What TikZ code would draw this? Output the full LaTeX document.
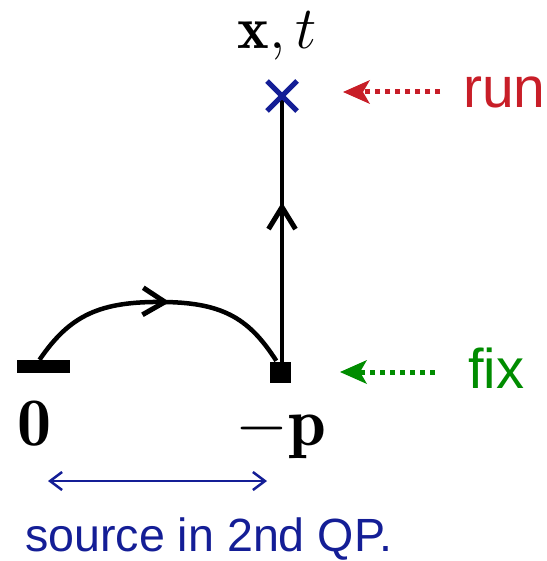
\RequirePackage{fix-cm}
\documentclass[tikz,border=0pt]{standalone}
\usepackage{fontspec}
\newfontfamily\lsans{Liberation Sans}
\usetikzlibrary{arrows.meta,decorations.markings,calc}
\definecolor{runred}{RGB}{200,30,40}
\definecolor{fixgreen}{RGB}{0,140,0}
\definecolor{qpblue}{RGB}{20,30,150}
\tikzset{
  pathline/.style={line width=4.5pt, black},
  chev/.tip={Straight Barb[length=22pt,width=27pt,line width=5pt]},
  pointer/.style={line width=5pt, dash pattern=on 5pt off 5pt,
     -{Stealth[length=27pt,width=24pt,inset=7pt,line width=0pt]}},
  lbl/.style={inner sep=0pt, anchor=base west},
  mlbl/.style={inner sep=0pt, anchor=base, font=\fontsize{68}{70}\selectfont},
}
\begin{document}
\begin{tikzpicture}[x=1pt,y=-1pt]
\useasboundingbox (0,0) rectangle (546,561);
% nodes
\coordinate (x) at (282,96);
\node[fill=black, minimum size=21pt, inner sep=0pt] (p) at (280,372.5) {};
\node[fill=black, minimum width=53pt, minimum height=13pt, inner sep=0pt] (o) at (43.5,366.5) {};
% curve with arrow
\draw[pathline, decoration={markings, mark=at position 0.54 with {\arrow{chev}}}, postaction={decorate}]
  ([xshift=-4pt]o.north) .. controls (70,315) and (100,301) .. (165,302)
  .. controls (225,303) and (250,320) .. ([xshift=7pt,yshift=1pt]p.north west);
% vertical line with arrow
\draw[pathline, decoration={markings, mark=at position 0.6 with {\arrow{chev}}}, postaction={decorate}]
  ([xshift=2pt]p.north) -- (x);
% cross
\draw[qpblue, line width=5pt] ($(x)+(-15,-15)$) -- ($(x)+(15,15)$);
\draw[qpblue, line width=5pt] ($(x)+(-15,15)$) -- ($(x)+(15,-15)$);
% labels
\node[mlbl, font=\fontsize{60}{62}\selectfont] (xt) at (277,49) {$\mathbf{x},t$};
\node[mlbl] (zero) at (34,445) {$\mathbf{0}$};
\node[mlbl] (mp) at (281,445) {$-\mathbf{p}$};
\node[lbl, text=runred, font=\lsans\fontsize{57}{60}\selectfont] (run) at (463,108) {run};
\node[lbl, text=fixgreen, font=\lsans\fontsize{56}{60}\selectfont] (fix) at (468,388) {fix};
\node[lbl, text depth=0pt, text=qpblue, font=\lsans\fontsize{46.6}{50}\selectfont] (src) at (25,551) {source in 2nd QP.};
% pointers
\coordinate (rs) at (440,92);
\coordinate (gs) at (435,372);
\draw[pointer, runred] (rs) -- (343,92);
\draw[pointer, fixgreen] (gs) -- (340,372);
% span arrow
\coordinate (sa) at (48,481);
\coordinate (sb) at (267,481);
\draw[qpblue, line width=2.5pt, {Straight Barb[length=12pt,width=18pt,line width=2.5pt]}-{Straight Barb[length=12pt,width=18pt,line width=2.5pt]}] (sa) -- (sb);
\end{tikzpicture}
\end{document}
